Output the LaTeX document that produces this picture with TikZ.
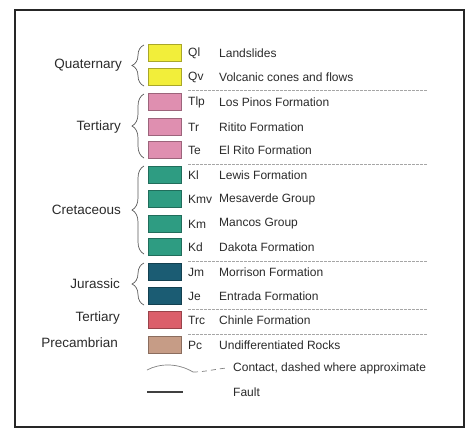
\documentclass[tikz,border=0pt]{standalone}
\usepackage{fontspec}
\setmainfont{Liberation Sans}
\usetikzlibrary{decorations.pathreplacing}
\definecolor{cyel}{HTML}{F2EE3A}
\definecolor{cpink}{HTML}{DF8FB0}
\definecolor{cteal}{HTML}{2E9C82}
\definecolor{cblue}{HTML}{1B5C73}
\definecolor{cred}{HTML}{DB5F6B}
\definecolor{ctan}{HTML}{C69C86}
\definecolor{ink}{HTML}{2A2A2A}
\tikzset{
  swatch/.style={draw=#1!70!black, fill=#1, line width=0.6pt, minimum width=33pt, minimum height=17pt, inner sep=0pt, anchor=west},
  code/.style={anchor=west, inner sep=0pt, font=\fontsize{12}{14}\selectfont, text=ink},
  desc/.style={anchor=west, inner sep=0pt, font=\fontsize{12}{14}\selectfont, text=ink},
  era/.style={anchor=east, inner sep=0pt, font=\fontsize{13.5}{15}\selectfont, text=ink},
  sep/.style={draw=gray!70, line width=0.6pt, dash pattern=on 3pt off 1pt},
  bracestyle/.style={draw=gray!70!black, line width=0.7pt, decorate, decoration={brace, amplitude=12pt}},
}
\begin{document}
\begin{tikzpicture}[x=1pt,y=1pt]
\useasboundingbox (0,0) rectangle (469,-432);
\draw[line width=2.5pt, draw=black!85] (15,-10) rectangle (464,-427);
% rows
\foreach \n/\y/\c/\cd/\ds in {
  ql/53/cyel/Ql/Landslides,
  qv/77/cyel/Qv/Volcanic cones and flows,
  tlp/102/cpink/Tlp/Los Pinos Formation,
  tr/127/cpink/Tr/Ritito Formation,
  te/150/cpink/Te/El Rito Formation,
  kl/175/cteal/Kl/Lewis Formation,
  kmv/199/cteal/Kmv/Mesaverde Group,
  km/224/cteal/Km/Mancos Group,
  kd/247/cteal/Kd/Dakota Formation,
  jm/272/cblue/Jm/Morrison Formation,
  je/296/cblue/Je/Entrada Formation,
  trc/320/cred/Trc/Chinle Formation,
  pc/345/ctan/Pc/Undifferentiated Rocks}{
  \node[swatch=\c] (s\n) at (148,-\y) {};
  \node[code] (c\n) at (188,-\y) {\cd};
  \node[desc] (d\n) at (219,-\y) {\ds};
}
% separators
\foreach \y in {90,164,261,309,334}{
  \draw[sep] (188,-\y) -- (427,-\y);
}
% era labels
\node[era] (quat) at (122,-65) {Quaternary};
\node[era] (tert) at (121,-127) {Tertiary};
\node[era] (cret) at (121,-210) {Cretaceous};
\node[era] (jur) at (120,-284) {Jurassic};
\node[era] (tert2) at (120,-318) {Tertiary};
\node[era] (prec) at (118,-343) {Precambrian};
% braces
\draw[bracestyle] (144,-86) -- (144,-45);
\draw[bracestyle] (144,-158) -- (144,-94);
\draw[bracestyle] (144,-254) -- (144,-166);
\draw[bracestyle] (144,-305) -- (144,-263);
% contact
\coordinate (ca) at (147,-370);
\coordinate (cb) at (193,-372);
\coordinate (cc) at (227,-368);
\draw[draw=gray, line width=0.7pt] (ca) .. controls (160,-363) and (178,-363) .. (cb);
\draw[draw=gray, line width=0.7pt, dash pattern=on 5pt off 4pt] (cb) .. controls (205,-372) and (215,-369) .. (cc);
\node[desc] (contact) at (233,-368) {Contact, dashed where approximate};
% fault
\coordinate (fa) at (147,-392);
\coordinate (fb) at (183,-392);
\draw[draw=black!75, line width=1.8pt] (fa) -- (fb);
\node[desc] (fault) at (233,-392) {Fault};
\end{tikzpicture}
\end{document}
